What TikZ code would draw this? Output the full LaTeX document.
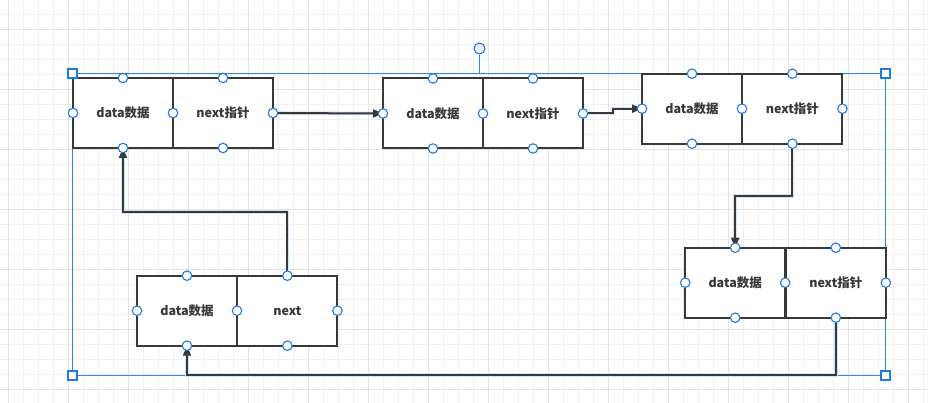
\documentclass[tikz,border=0pt]{standalone}
\usepackage{fontspec}
\setmainfont{Noto Sans CJK SC}
\usetikzlibrary{arrows.meta,calc}
\definecolor{gridminor}{HTML}{F1F1F1}
\definecolor{gridmajor}{HTML}{E4E4E4}
\definecolor{selblue}{HTML}{2F86EA}
\definecolor{handleblue}{HTML}{1E7BE6}
\definecolor{ink}{HTML}{383838}
\definecolor{glow}{HTML}{D2E5F9}
\definecolor{rotfill}{HTML}{E6F0FC}
\begin{document}
\begin{tikzpicture}[x=1pt,y=-1pt,
  cell/.style={draw=ink, line width=2pt, fill=white, rectangle, minimum width=100pt, minimum height=70pt, inner sep=0pt, outer sep=0pt, font=\fontsize{12.5}{14}\selectfont\bfseries, text=ink},
  link/.style={draw=ink, line width=2pt, -{Triangle[length=10pt,width=8pt]}, preaction={draw=glow, line width=3.6pt, -}},
  port/.style={circle, draw=handleblue, fill=white, line width=1.1pt, minimum size=9.5pt, inner sep=0pt},
  corner/.style={draw=handleblue, fill=white, line width=1.3pt, rectangle, minimum size=9pt, inner sep=0pt},
  selbox/.style={draw=selblue, line width=1.5pt, rectangle, inner sep=0pt, outer sep=0pt, minimum width=813pt, minimum height=302pt},
  rothandle/.style={circle, draw=handleblue, fill=rotfill, line width=1.1pt, minimum size=11pt, inner sep=0pt}
]
\useasboundingbox (0,0) rectangle (928,403);
\fill[white] (0,0) rectangle (928,403);
% grid
\foreach \x in {8.5,23.5,...,925} \draw[gridminor, line width=1pt] (\x,0) -- (\x,403);
\foreach \y in {14.5,29.5,...,402} \draw[gridminor, line width=1pt] (0,\y) -- (928,\y);
\foreach \x in {8.5,68.5,...,925} \draw[gridmajor, line width=1pt] (\x,0) -- (\x,403);
\foreach \y in {29.5,89.5,...,402} \draw[gridmajor, line width=1pt] (0,\y) -- (928,\y);

% selection box
\node[selbox] (sel) at (479,224.5) {};
\node[rothandle] (rh) at (479.5,48.5) {};
\draw[selblue, line width=1.4pt] (rh) -- (rh |- sel.north);

% cells
\node[cell] (d1) at (123,113) {data数据};
\node[cell] (n1) at (223,113) {next指针};
\node[cell] (d2) at (433,113.5) {data数据};
\node[cell] (n2) at (533,113.5) {next指针};
\node[cell] (d3) at (692,108.7) {data数据};
\node[cell] (n3) at (792.4,108.7) {next指针};
\node[cell] (d4) at (735.2,282.7) {data数据};
\node[cell] (n4) at (835.8,282.7) {next指针};
\node[cell] (d5) at (187,310.7) {data数据};
\node[cell] (n5) at (287.4,310.7) {next};

% connectors
\coordinate (s2) at ($(n2.east)+(30,0)$);
\coordinate (s3) at ($(n3.south)+(0,52.5)$);
\coordinate (s4) at ($(n4.south)+(0,57.3)$);
\coordinate (s5) at ($(n5.north)+(0,-63.5)$);
\draw[link] (n1.east) -- (d2.west);
\draw[link] (n2.east) -- (s2) |- (d3.west);
\draw[link] (n3.south) -- (s3) -| (d4.north);
\draw[link] (n4.south) -- (s4) -| (d5.south);
\draw[link] (n5.north) -- (s5) -| (d1.south);

% ports
\foreach \p in {d1,d2,d3,d4,d5} {
  \node[port] at (\p.north) {};
  \node[port] at (\p.south) {};
  \node[port] at (\p.west) {};
  \node[port] at (\p.east) {};
}
\foreach \p in {n1,n2,n3,n4,n5} {
  \node[port] at (\p.north) {};
  \node[port] at (\p.south) {};
  \node[port] at (\p.east) {};
}

% corner handles
\node[corner] at (sel.north west) {};
\node[corner] at (sel.north east) {};
\node[corner] at (sel.south west) {};
\node[corner] at (sel.south east) {};
\end{tikzpicture}
\end{document}
